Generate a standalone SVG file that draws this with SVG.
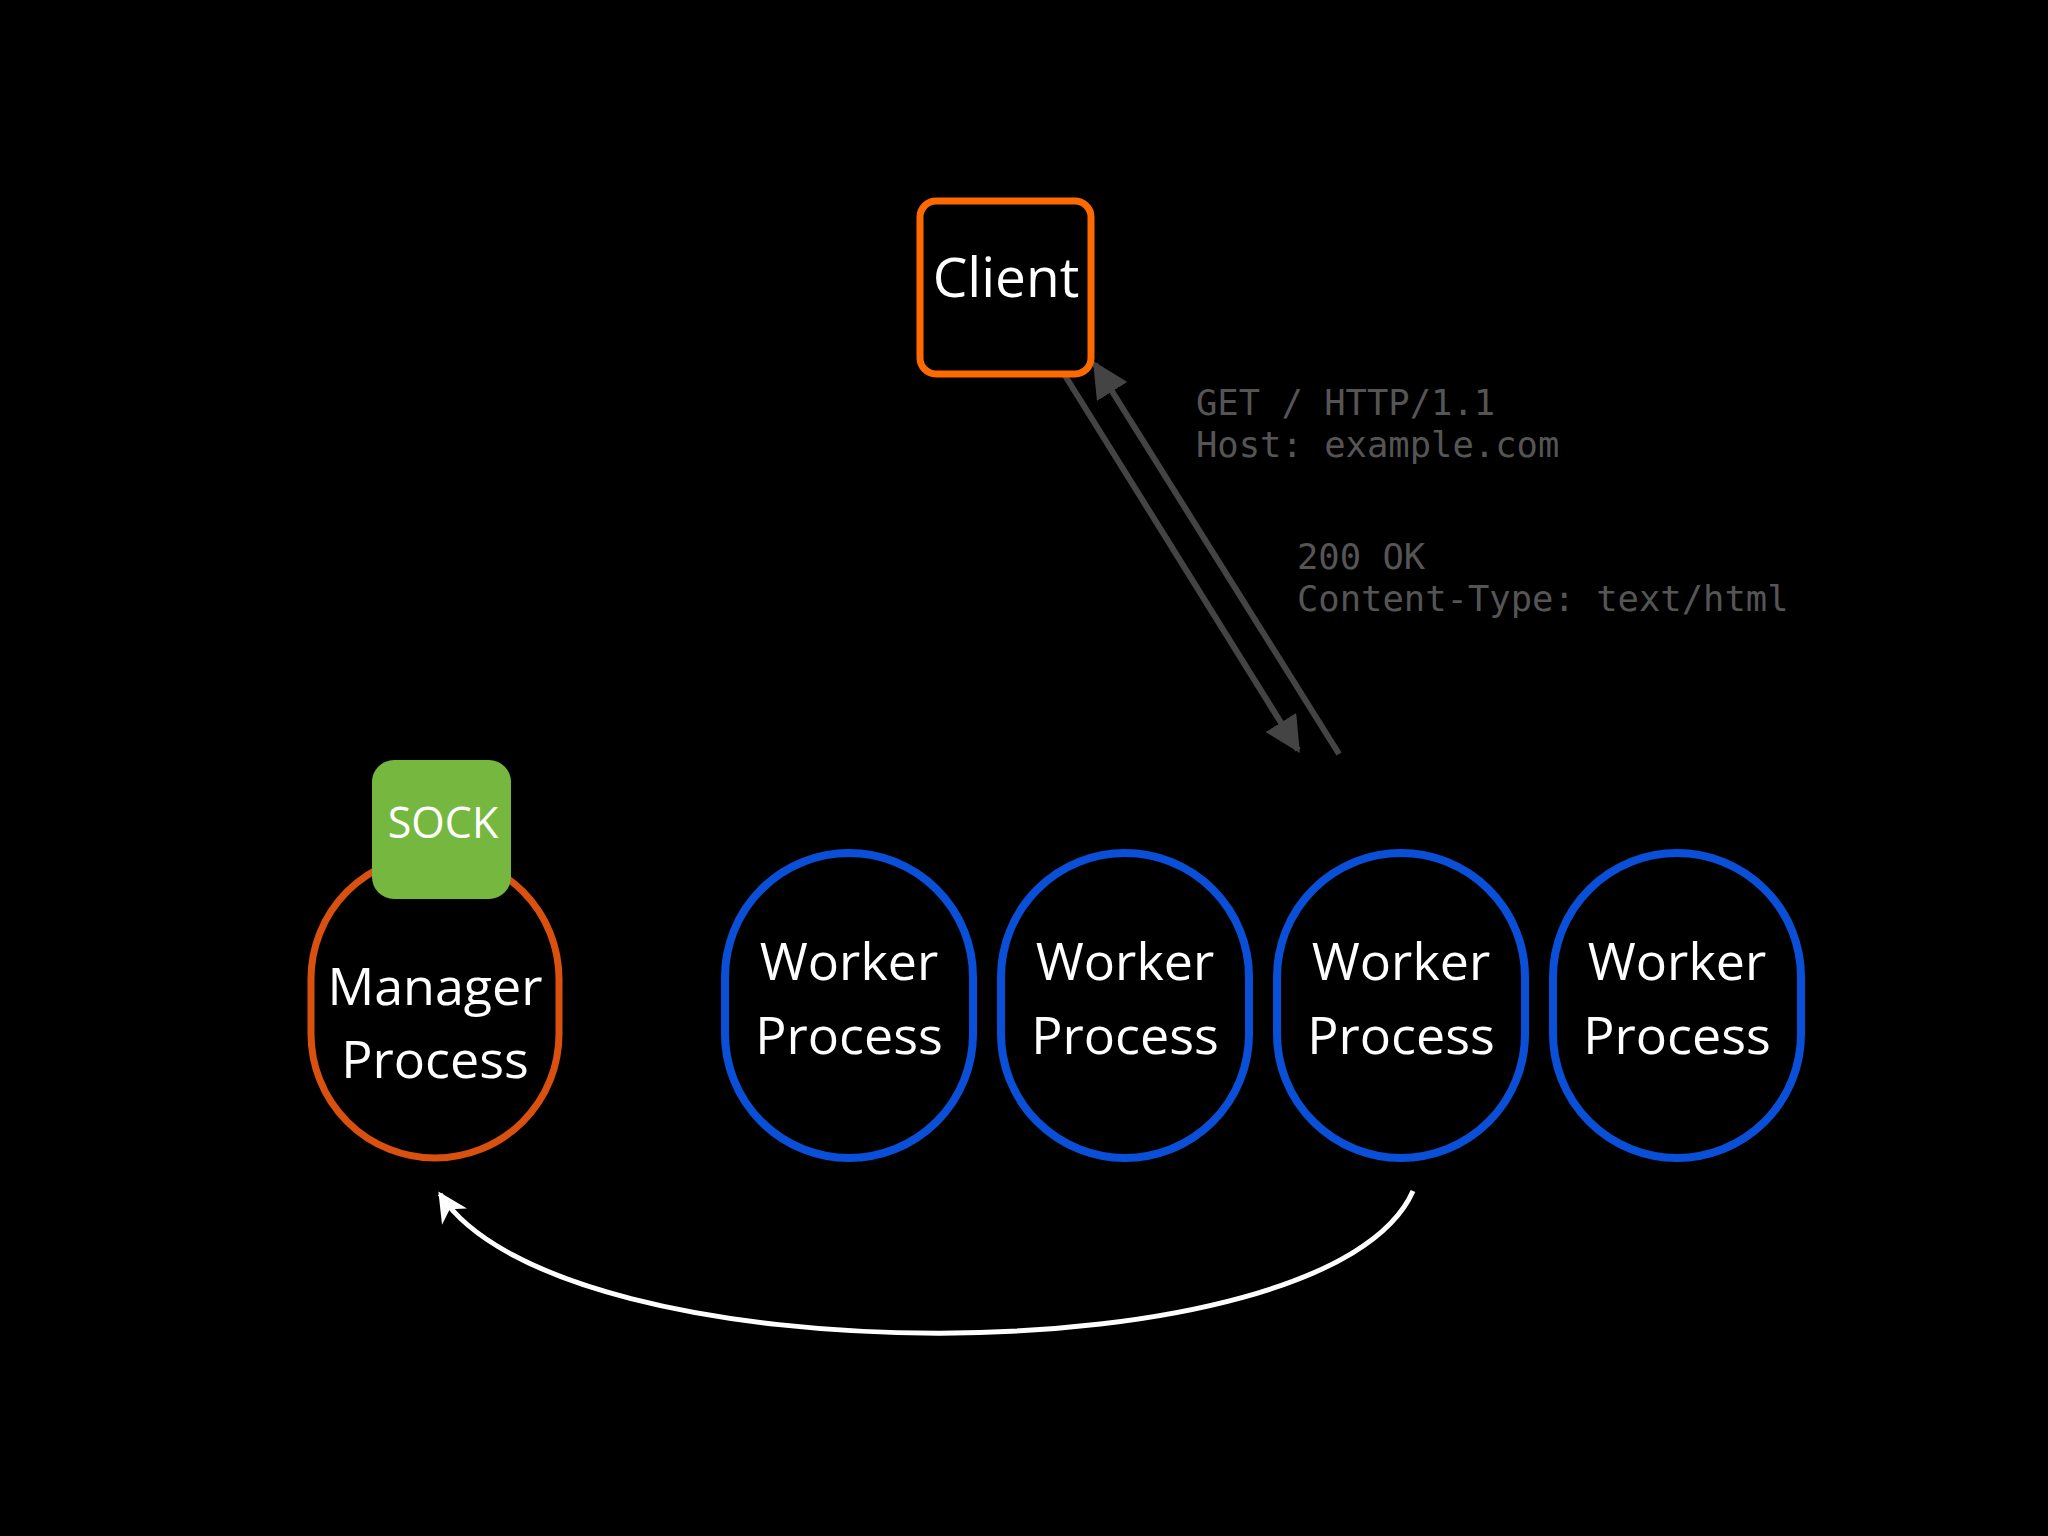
<svg xmlns="http://www.w3.org/2000/svg" width="2048" height="1536" viewBox="0 0 2048 1536">
<defs>
<style>
.lbl{font-family:"Open Sans","Liberation Sans",sans-serif;fill:#fff;text-anchor:middle}
.mono{font-family:"DejaVu Sans Mono","Liberation Mono",monospace;fill:#555;font-size:35.5px}
.worker{fill:#000;stroke:#0A4FD8;stroke-width:8}
</style>
<marker id="ag" viewBox="0 0 10 10" refX="9" refY="5" markerWidth="6" markerHeight="6" orient="auto"><path d="M0,0 L10,5 L0,10 z" fill="#444"/></marker>
<marker id="aw" viewBox="0 0 10 10" refX="9" refY="5" markerWidth="6" markerHeight="6" orient="auto"><path d="M0,0 L10,5 L0,10 L3,5 z" fill="#fff"/></marker>
</defs>
<rect width="2048" height="1536" fill="#000"/>
<g id="connectors">
<line x1="1051" y1="353" x2="1298" y2="750" stroke="#444" stroke-width="6" marker-end="url(#ag)"/>
<line x1="1339" y1="754" x2="1095" y2="364" stroke="#444" stroke-width="6" marker-end="url(#ag)"/>
<path d="M1413 1191 C1330 1380 560 1380 440 1194" fill="none" stroke="#fff" stroke-width="5" marker-end="url(#aw)"/>
</g>
<g id="http-text">
<text class="mono" x="1196" y="415">GET / HTTP/1.1</text>
<text class="mono" x="1196" y="457">Host: example.com</text>
<text class="mono" x="1297" y="569">200 OK</text>
<text class="mono" x="1297" y="611">Content-Type: text/html</text>
</g>
<g id="client">
<rect x="920" y="201" width="171" height="173" rx="16" fill="#000" stroke="#FF6A00" stroke-width="7"/>
<text class="lbl" x="1006" y="297" font-size="55">Client</text>
</g>
<g id="manager">
<rect x="311" y="855" width="248" height="303" rx="124" fill="#000" stroke="#D9500F" stroke-width="7"/>
<text class="lbl" x="435" y="1005" font-size="52">Manager</text>
<text class="lbl" x="435" y="1078" font-size="52">Process</text>
</g>
<g id="sock">
<rect x="372" y="760" width="139" height="139" rx="22" fill="#76B83F"/>
<text class="lbl" x="443" y="838" font-size="43">SOCK</text>
</g>
<g id="worker1"><rect class="worker" x="725" y="853" width="248" height="305" rx="124"/><text class="lbl" x="849" y="980" font-size="52">Worker</text><text class="lbl" x="849" y="1054" font-size="52">Process</text></g>
<g id="worker2"><rect class="worker" x="1001" y="853" width="248" height="305" rx="124"/><text class="lbl" x="1125" y="980" font-size="52">Worker</text><text class="lbl" x="1125" y="1054" font-size="52">Process</text></g>
<g id="worker3"><rect class="worker" x="1277" y="853" width="248" height="305" rx="124"/><text class="lbl" x="1401" y="980" font-size="52">Worker</text><text class="lbl" x="1401" y="1054" font-size="52">Process</text></g>
<g id="worker4"><rect class="worker" x="1553" y="853" width="248" height="305" rx="124"/><text class="lbl" x="1677" y="980" font-size="52">Worker</text><text class="lbl" x="1677" y="1054" font-size="52">Process</text></g>
</svg>
